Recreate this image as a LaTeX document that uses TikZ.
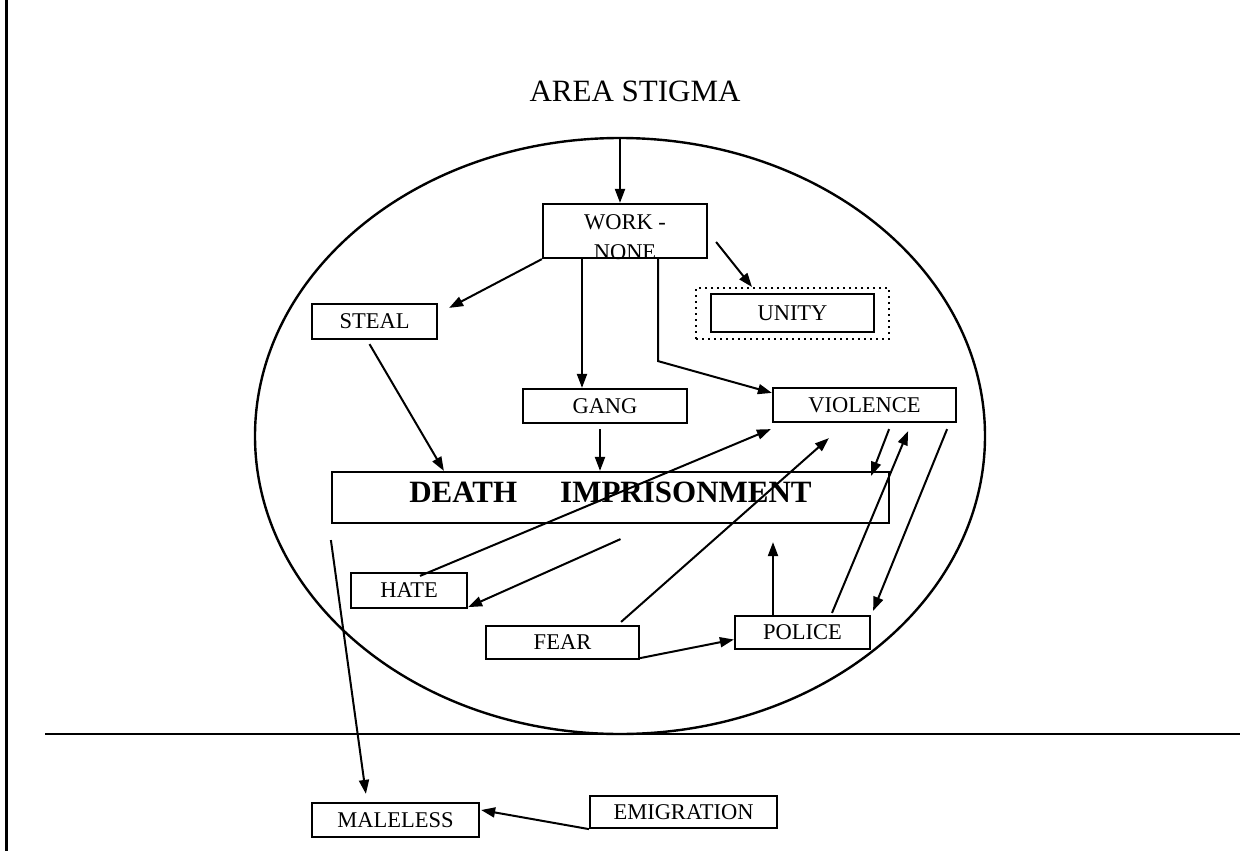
\documentclass[tikz,border=0pt]{standalone}
\usepackage{fontspec}
\setmainfont{Liberation Serif}
\usetikzlibrary{arrows.meta,calc}
\begin{document}
\begin{tikzpicture}[x=1pt,y=-1pt,
  line width=2pt,
  box/.style={draw, rectangle, inner sep=0pt, line width=2.2pt, font=\fontsize{22.5}{27}\selectfont},
  lbl/.style={inner sep=0pt, font=\fontsize{22.5}{27}\selectfont},
  arr/.style={-{Triangle[length=14pt,width=10pt]}, line width=2pt},
]
\useasboundingbox (0,0) rectangle (1251,851);
% frame line and ground line
\draw[line width=3pt] (6,0) -- (6,851);
\draw[line width=2.6pt] (45,734) -- (1240,734);
% the area
\draw[line width=2.4pt] (620,436) ellipse [x radius=365, y radius=298];
\coordinate (etop) at (620,138);

\node[inner sep=0pt, anchor=base, font=\fontsize{31}{37}\selectfont] (title) at (635,101) {AREA STIGMA};

% boxes
\node[box, minimum width=164pt, minimum height=54pt] (work) at (625,231) {};
\node[lbl, anchor=base] (worka) at (625,229) {WORK -};
\node[lbl, anchor=base] (workb) at (625,259) {NONE};
\node[box, minimum width=125pt, minimum height=35pt] (steal) at (374.5,321.5) {STEAL};
\node[draw, dash pattern=on 2pt off 4pt, line width=2pt, inner sep=0pt, minimum width=193pt, minimum height=51pt] (unityo) at (792.5,313.5) {};
\node[box, minimum width=163pt, minimum height=38pt] (unity) at (792.5,313) {UNITY};
\node[box, minimum width=164pt, minimum height=34pt] (gang) at (605,406) {GANG};
\node[box, minimum width=183pt, minimum height=34pt] (viol) at (864.5,405) {VIOLENCE};
\node[box, minimum width=557pt, minimum height=51pt, text depth=10pt, font=\bfseries\fontsize{31}{37}\selectfont] (death) at (610.5,497.5) {DEATH\hspace{43pt}IMPRISONMENT};
\node[box, minimum width=116pt, minimum height=35pt] (hate) at (409,590.5) {HATE};
\node[box, minimum width=153pt, minimum height=33pt] (fear) at (562.5,642.5) {FEAR};
\node[box, minimum width=135pt, minimum height=33pt] (police) at (802.5,632.5) {POLICE};
\node[box, minimum width=167pt, minimum height=34pt] (male) at (395.5,820) {MALELESS};
\node[box, minimum width=187pt, minimum height=32pt] (emig) at (683.5,812) {EMIGRATION};

% connectors
\draw[arr] (etop) -- (etop |- work.north);
\draw[arr] (work.south west) -- ($(steal.north east)+(11,5)$);
\draw[arr] ($(work.east)+(8,11)$) -- ($(unityo.north west)+(57,0)$);
\coordinate (wg) at ($(work.south)+(-43,0)$);
\draw[arr] (wg) -- (wg |- gang.north);
\coordinate (wv) at ($(work.south)+(33,0)$);
\draw[arr] (wv) -- ++(0,102) -- ($(viol.north west)+(0,6)$);
\draw[arr] ($(steal.south)+(-5,4)$) -- ($(death.north west)+(113,0)$);
\coordinate (gd) at ($(gang.south)+(-5,5)$);
\draw[arr] (gd) -- (gd |- death.north);
\draw[arr] ($(death.south west)+(0,16)$) -- ($(male.north west)+(55,-8)$);
\draw[arr] (emig.south west) -- ($(male.east)+(1,-10)$);
\draw[arr] ($(death.south)+(10,15)$) -- ($(hate.south east)+(0,-2)$);
\draw[arr] ($(hate.north)+(11,4)$) -- ($(viol.south west)+(-1,6)$);
\draw[arr] ($(fear.north east)+(-19,-3)$) -- ($(viol.south west)+(57,15)$);
\draw[arr] ($(fear.south east)+(0,-2)$) -- ($(police.west)+(0,7)$);
\coordinate (pd) at ($(police.north)+(-29.5,0)$);
\draw[arr] (pd) -- ($(pd |- death.south)+(0,18)$);
\draw[arr] ($(viol.south east)+(-68,6)$) -- ($(death.north east)+(-19,5)$);
\draw[arr] ($(police.north)+(29.5,-2)$) -- ($(viol.south east)+(-49,8)$);
\draw[arr] ($(viol.south east)+(-10,6)$) -- ($(police.north east)+(2,-4)$);
\end{tikzpicture}
\end{document}
